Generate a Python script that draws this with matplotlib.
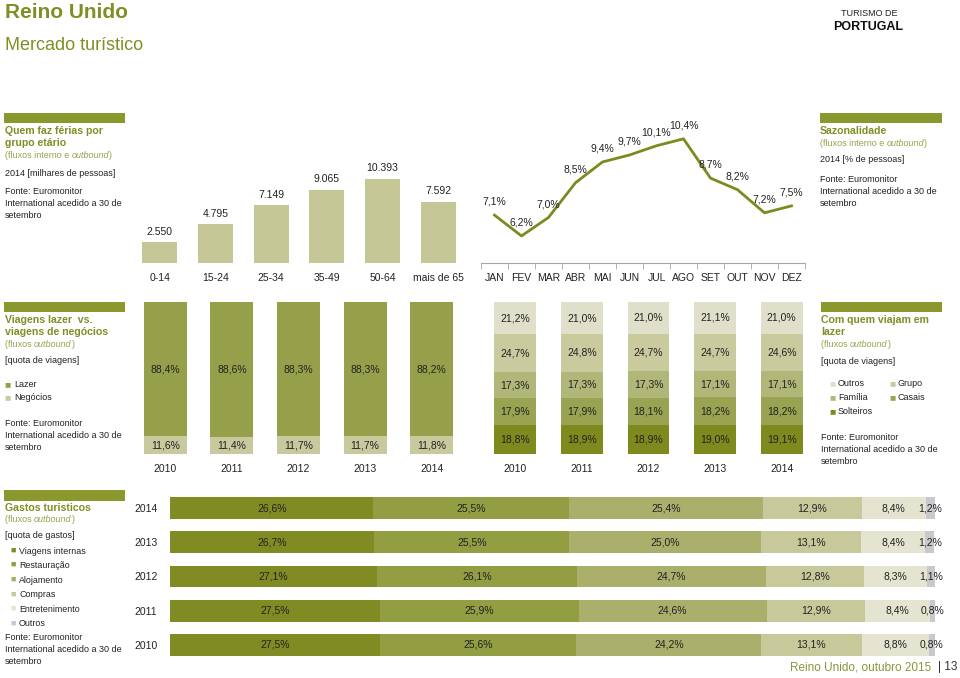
import matplotlib
matplotlib.use("Agg")
import matplotlib.pyplot as plt
from matplotlib.patches import Rectangle

plt.rcParams["font.family"] = ["Liberation Sans", "DejaVu Sans"]

# --- data -------------------------------------------------------------
ages = ["0-14", "15-24", "25-34", "35-49", "50-64", "mais de 65"]
age_travellers = [2550, 4795, 7149, 9065, 10393, 7592]  # milhares

months = ["JAN", "FEV", "MAR", "ABR", "MAI", "JUN",
          "JUL", "AGO", "SET", "OUT", "NOV", "DEZ"]
season_share = [7.1, 6.2, 7.0, 8.5, 9.4, 9.7, 10.1, 10.4, 8.7, 8.2, 7.2, 7.5]

years = ["2010", "2011", "2012", "2013", "2014"]
lazer = [88.4, 88.6, 88.3, 88.3, 88.2]
negocios = [11.6, 11.4, 11.7, 11.7, 11.8]

solteiros = [18.8, 18.9, 18.9, 19.0, 19.1]
casais = [17.9, 17.9, 18.1, 18.2, 18.2]
familia = [17.3, 17.3, 17.3, 17.1, 17.1]
grupo = [24.7, 24.8, 24.7, 24.7, 24.6]
outros_comp = [21.2, 21.0, 21.0, 21.1, 21.0]

gasto_years = ["2014", "2013", "2012", "2011", "2010"]
viagens_internas = [26.6, 26.7, 27.1, 27.5, 27.5]
restauracao = [25.5, 25.5, 26.1, 25.9, 25.6]
alojamento = [25.4, 25.0, 24.7, 24.6, 24.2]
compras = [12.9, 13.1, 12.8, 12.9, 13.1]
entretenimento = [8.4, 8.4, 8.3, 8.4, 8.8]
outros_gasto = [1.2, 1.2, 1.1, 0.8, 0.8]

# --- colours ----------------------------------------------------------
OLIVE = "#7f8f24"
BAR_HEAD = "#8a982e"
SUB = "#98a24c"
TXT = "#222222"
TITLE_FS = 7.6
BODY_FS = 6.5

W, H = 960, 678
fig = plt.figure(figsize=(9.6, 6.78), dpi=100)


def fx(x):
    return x / W


def fy(y):
    return 1 - y / H


def ax_px(l, t, r, b):
    ax = fig.add_axes([fx(l), fy(b), (r - l) / W, (b - t) / H])
    for s in ax.spines.values():
        s.set_visible(False)
    return ax


def put(x, y, s, size=BODY_FS, color=TXT, weight="normal", style="normal", ha="left", va="center"):
    return fig.text(fx(x), fy(y), s, fontsize=size, color=color, fontweight=weight,
                    fontstyle=style, ha=ha, va=va)


def put_parts(x, y, parts, size=BODY_FS, color=SUB):
    r = fig.canvas.get_renderer()
    for s, st in parts:
        t = put(x, y, s, size=size, color=color, style=st)
        x += t.get_window_extent(renderer=r).width


def head_bar(x0, y0, x1, y1):
    fig.add_artist(Rectangle((fx(x0), fy(y1)), (x1 - x0) / W, (y1 - y0) / H,
                             transform=fig.transFigure, color=BAR_HEAD, lw=0))


def title(x, y, s):
    put(x, y, s, size=TITLE_FS, color=OLIVE, weight="bold")


def key(x, y, c, size=7.5):
    put(x, y - 1, "■", size=size, color=c)


def pct(v):
    return f"{v:.1f}%".replace(".", ",")


# --- header -----------------------------------------------------------
put(5, 12, "Reino Unido", size=15, color=OLIVE, weight="bold")
put(5, 45, "Mercado turístico", size=13, color=OLIVE)
put(869, 13, "TURISMO DE", size=6.5, color="#222222", ha="center")
put(868, 27, "PORTUGAL", size=9, color="#111111", weight="bold", ha="center")
put(931, 667, "Reino Unido, outubro 2015", size=8.5, color="#8a963a", ha="right")
put(957, 667, "| 13", size=8.5, color="#333333", ha="right")

# --- side text blocks -------------------------------------------------
fonte = ["Fonte: Euromonitor", "International acedido a 30 de", "setembro"]

head_bar(4, 113, 125, 123)
title(5, 131, "Quem faz férias por")
title(5, 143, "grupo etário")
put_parts(5, 155, [("(fluxos interno e ", "normal"), ("outbound", "italic"), (")", "normal")])
put(5, 173, "2014 [milhares de pessoas]")
for i, s in enumerate(fonte):
    put(5, 191 + i * 12, s)

head_bar(820, 113, 942, 123)
title(820, 131, "Sazonalidade")
put_parts(820, 143, [("(fluxos interno e ", "normal"), ("outbound", "italic"), (")", "normal")])
put(820, 160, "2014 [% de pessoas]")
for i, s in enumerate(fonte):
    put(820, 179 + i * 12, s)

head_bar(4, 302, 125, 312)
title(5, 320, "Viagens lazer  vs.")
title(5, 332, "viagens de negócios")
put_parts(5, 344, [("(fluxos ", "normal"), ("outbound", "italic"), (")", "normal")])
put(5, 360, "[quota de viagens]")
key(4, 385, "#96a04a")
put(14, 385, "Lazer")
key(4, 398, "#c8c99c")
put(14, 398, "Negócios")
for i, s in enumerate(fonte):
    put(5, 423 + i * 12, s)

head_bar(821, 302, 942, 312)
title(821, 320, "Com quem viajam em")
title(821, 332, "lazer")
put_parts(821, 344, [("(fluxos ", "normal"), ("outbound", "italic"), (")", "normal")])
put(821, 361, "[quota de viagens]")
comp_colors = ["#7f8a1e", "#9aa351", "#b1b779", "#c9cb9e", "#e0e0ca"]
leg = [("Outros", comp_colors[4], 829, 384), ("Grupo", comp_colors[3], 889, 384),
       ("Família", comp_colors[2], 829, 398), ("Casais", comp_colors[1], 889, 398),
       ("Solteiros", comp_colors[0], 829, 412)]
for name, c, lx, ly in leg:
    key(lx, ly, c)
    put(lx + 9, ly, name)
for i, s in enumerate(fonte):
    put(821, 438 + i * 12, s)

gasto_colors = ["#808c23", "#939d42", "#aab06b", "#c7c99b", "#e4e4d0", "#c9c9cd"]
head_bar(4, 490, 125, 501)
title(5, 508, "Gastos turisticos")
put_parts(5, 520, [("(fluxos ", "normal"), ("outbound", "italic"), (")", "normal")])
put(5, 536, "[quota de gastos]")
gasto_names = ["Viagens internas", "Restauração", "Alojamento", "Compras",
               "Entretenimento", "Outros"]
for i, (n, c) in enumerate(zip(gasto_names, gasto_colors)):
    key(10, 551 + i * 14.6, c, size=6.5)
    put(19, 551 + i * 14.6, n, size=6.4)
for i, s in enumerate(fonte):
    put(5, 638 + i * 12, s)

# --- chart 1: age groups ---------------------------------------------
ax1 = ax_px(132, 160, 466, 263)
ax1.bar(range(len(ages)), age_travellers, width=0.63, color="#c5c896")
for i, v in enumerate(age_travellers):
    ax1.annotate(f"{v:,}".replace(",", "."), (i, v), xytext=(0, 4),
                 textcoords="offset points", ha="center", va="bottom",
                 fontsize=7.5, color=TXT)
ax1.set_xlim(-0.5, len(ages) - 0.5)
ax1.set_ylim(0, 12744)
ax1.set_yticks([])
ax1.set_xticks(range(len(ages)), ages, fontsize=7.5, color=TXT)
ax1.tick_params(axis="x", length=0, pad=7)

# --- chart 2: seasonality line ---------------------------------------
ax2 = ax_px(481, 115, 805, 263)
ax2.plot(range(12), season_share, color="#7b8b1f", lw=2)
for i, v in enumerate(season_share):
    ax2.annotate(pct(v), (i, v), xytext=(0, 6), textcoords="offset points",
                 ha="center", va="bottom", fontsize=7.5, color=TXT)
ax2.set_xlim(-0.5, 11.5)
ax2.set_ylim(5.03, 11.43)
ax2.set_yticks([])
ax2.spines["bottom"].set_visible(True)
ax2.spines["bottom"].set_color("#a6a6a6")
ax2.set_xticks(range(12), months, fontsize=7.5, color=TXT)
ax2.set_xticks([i - 0.5 for i in range(13)], minor=True)
ax2.tick_params(axis="x", which="major", length=0, pad=7)
ax2.tick_params(axis="x", which="minor", length=4, color="#a6a6a6")

# --- chart 3: leisure vs business ------------------------------------
ax3 = ax_px(132, 302, 465, 454)
x = range(len(years))
ax3.bar(x, negocios, width=0.645, color="#c8c99c")
ax3.bar(x, lazer, width=0.645, bottom=negocios, color="#96a04a")
for i in x:
    ax3.text(i, negocios[i] / 2, pct(negocios[i]), ha="center", va="center",
             fontsize=7.5, color=TXT)
    ax3.text(i, negocios[i] + lazer[i] / 2, pct(lazer[i]), ha="center",
             va="center", fontsize=7.5, color=TXT)
ax3.set_xlim(-0.5, 4.5)
ax3.set_ylim(0, 100)
ax3.set_yticks([])
ax3.set_xticks(list(x), years, fontsize=7.5, color=TXT)
ax3.tick_params(axis="x", length=0, pad=7)

# --- chart 4: who they travel with -----------------------------------
ax4 = ax_px(482, 302, 815, 454)
bottom = [0] * len(years)
for vals, c in zip([solteiros, casais, familia, grupo, outros_comp], comp_colors):
    ax4.bar(x, vals, width=0.63, bottom=bottom, color=c)
    for i in x:
        ax4.text(i, bottom[i] + vals[i] / 2, pct(vals[i]), ha="center",
                 va="center", fontsize=7.5, color=TXT)
    bottom = [b + v for b, v in zip(bottom, vals)]
ax4.set_xlim(-0.5, 4.5)
ax4.set_ylim(0, 100)
ax4.set_yticks([])
ax4.set_xticks(list(x), years, fontsize=7.5, color=TXT)
ax4.tick_params(axis="x", length=0, pad=7)

# --- chart 5: spending -----------------------------------------------
ax5 = ax_px(170, 491, 935, 662)
rows = range(len(gasto_years))
left = [0] * len(gasto_years)
for vals, c in zip([viagens_internas, restauracao, alojamento, compras,
                    entretenimento, outros_gasto], gasto_colors):
    ax5.barh(rows, vals, height=0.64, left=left, color=c)
    for i in rows:
        ax5.text(left[i] + vals[i] / 2, i, pct(vals[i]), ha="center",
                 va="center", fontsize=7.5, color=TXT)
    left = [l + v for l, v in zip(left, vals)]
ax5.set_xlim(0, 100)
ax5.set_ylim(4.5, -0.5)
ax5.set_xticks([])
ax5.set_yticks(list(rows), gasto_years, fontsize=7.5, color=TXT)
ax5.tick_params(axis="y", length=0, pad=9)

fig.savefig("out.png", dpi=100)
